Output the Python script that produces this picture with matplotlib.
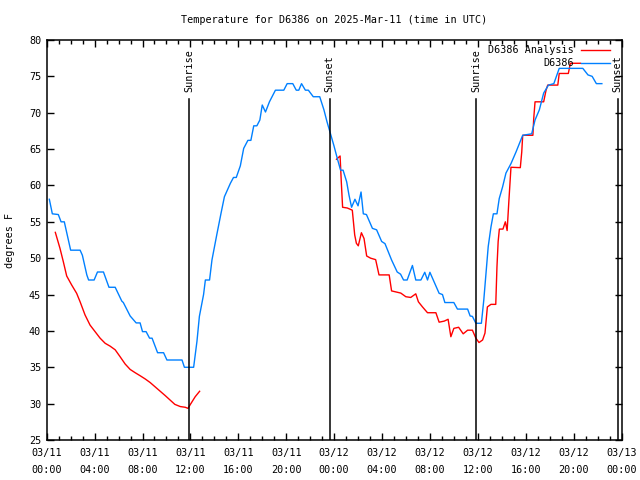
import numpy as np
import matplotlib
matplotlib.use('Agg')
import matplotlib.pyplot as plt
import matplotlib.dates as mdates
from datetime import datetime, timedelta

# hours since 2025-03-11 00:00 UTC
obs_hours = [0.22, 0.47, 0.97, 1.20, 1.47, 2.00, 2.79, 2.98, 3.35, 3.50, 3.96, 4.24, 4.74,
             5.20, 5.72, 6.27, 6.40, 6.97, 7.47, 7.80, 8.00, 8.30, 8.59, 8.80, 9.26, 9.76,
             10.04, 11.30, 11.50, 12.27, 12.55, 12.75, 13.10, 13.25, 13.60, 13.80, 14.20,
             14.56, 14.84, 15.34, 15.60, 15.83, 16.17, 16.45, 16.80, 17.05, 17.29, 17.55,
             17.80, 18.00, 18.27, 18.60, 19.10, 19.80, 20.08, 20.55, 20.84, 21.05, 21.28,
             21.60, 21.85, 22.26, 22.80, 23.15, 23.40, 23.65, 23.98, 24.27, 24.54, 24.75,
             25.05, 25.24, 25.46, 25.74, 26.00, 26.25, 26.44, 26.70, 27.20, 27.55, 27.97,
             28.25, 28.80, 29.27, 29.55, 29.80, 30.10, 30.54, 30.82, 31.25, 31.57, 31.80,
             32.00, 32.40, 32.77, 33.05, 33.25, 34.00, 34.30, 35.15, 35.36, 35.55, 35.84,
             36.30, 36.50, 36.68, 36.87, 37.10, 37.30, 37.60, 37.79, 38.07, 38.35, 38.77,
             39.19, 39.75, 40.50, 40.78, 41.14, 41.50, 41.90, 42.35, 42.80, 44.77, 45.20,
             45.55, 45.90, 46.36]
obs_temp = [58.1, 56.1, 56.0, 55.0, 55.0, 51.1, 51.1, 50.4, 47.7, 47.0, 47.0, 48.1, 48.1,
            46.0, 46.0, 44.1, 43.9, 42.05, 41.1, 41.1, 39.9, 39.9, 39.0, 39.0, 37.0, 37.0,
            36.0, 36.0, 35.0, 35.0, 38.6, 42.0, 45.0, 47.0, 47.0, 49.75, 53.2,
            56.2, 58.45, 60.3, 61.1, 61.1, 62.7, 65.1, 66.2, 66.2, 68.2, 68.2,
            69.0, 71.06, 70.1, 71.5, 73.1, 73.1, 74.0, 74.0, 73.1, 73.1, 74.0,
            73.1, 73.1, 72.2, 72.2, 70.4, 68.8, 67.4, 65.5, 63.7, 62.1, 62.1,
            60.5, 58.7, 57.0, 58.1, 57.2, 59.1, 56.1, 56.0, 54.1, 53.9, 52.3,
            52.0, 49.75, 48.1, 47.8, 47.0, 47.0, 49.0, 47.0, 47.0, 48.06, 47.0,
            48.06, 46.55, 45.17, 45.0, 43.9, 43.9, 43.0, 43.0, 42.05, 42.0, 41.05,
            41.05, 44.25, 47.9, 51.6, 54.3, 56.1, 56.1, 58.2, 59.8, 61.7, 63.0,
            64.6, 66.9, 67.1, 69.0, 70.4, 72.7, 73.8, 74.0, 76.1, 76.1, 75.2,
            75.0, 74.0, 74.0]

ana_hours = [0.72, 1.11, 1.39, 1.67, 2.09, 2.50, 2.79, 3.20, 3.62, 4.04, 4.46, 4.88, 5.30,
             5.72, 6.13, 6.55, 6.97, 7.39, 7.80, 8.22, 8.64, 9.06, 9.48, 9.90, 10.30, 10.70,
             11.15, 11.57, 11.80, 12.00, 12.40, 12.77, 18.0,
             24.20, 24.50, 24.60, 24.71, 25.10, 25.52, 25.72, 25.86, 26.02, 26.28, 26.50,
             26.72, 27.05, 27.47, 27.75, 28.60, 28.80, 29.57, 29.99, 30.40, 30.82, 31.04,
             31.38, 31.80, 32.50, 32.77, 33.20, 33.52, 33.75, 34.00, 34.40, 34.78, 35.15,
             35.55, 35.84, 36.10, 36.40, 36.60, 36.80, 37.10, 37.50, 37.60, 37.70, 37.80,
             38.10, 38.30, 38.45, 38.60, 38.77, 39.55, 39.67, 39.75, 40.60, 40.67, 40.78,
             41.50, 41.70, 41.84, 42.68, 42.80, 43.56, 43.73, 44.57]
ana_temp = [53.55, 51.35, 49.5, 47.55, 46.3, 45.17, 44.0, 42.2, 40.8, 39.9, 39.0, 38.3, 37.9,
            37.4, 36.45, 35.45, 34.7, 34.25, 33.84, 33.4, 32.9, 32.3, 31.7, 31.1, 30.5, 29.9,
            29.6, 29.5, 29.35, 29.9, 30.95, 31.7, np.nan,
            63.6, 64.05, 60.5, 57.0, 56.9, 56.6, 53.2, 52.05, 51.7, 53.5, 52.7,
            50.3, 50.0, 49.8, 47.7, 47.7, 45.5, 45.2, 44.7, 44.6, 45.1, 44.0,
            43.3, 42.5, 42.5, 41.2, 41.35, 41.6, 39.2, 40.35, 40.5, 39.6, 40.1,
            40.1, 39.0, 38.4, 38.75, 39.7, 43.3, 43.65, 43.65, 48.8, 52.3, 54.0,
            54.0, 55.0, 53.8, 58.0, 62.5, 62.45, 64.6, 66.9, 66.9, 69.2, 71.5,
            71.5, 73.1, 73.8, 73.8, 75.4, 75.4, 76.8, 76.8]

sun_hours = [11.88, 23.62, 35.87, 47.67]
sun_labels = ['Sunrise', 'Sunset', 'Sunrise', 'Sunset']

base = datetime(2025, 3, 11)
def to_time(hours):
    return [base + timedelta(hours=h) for h in hours]

font = 'DejaVu Sans Mono'
plt.rcParams['font.family'] = font
plt.rcParams['font.size'] = 7.3

fig = plt.figure(figsize=(6.4, 4.8), dpi=100)
ax = fig.add_axes([46.7/640, 40/480, (621.5-46.7)/640, 400/480])

ax.plot(to_time(ana_hours), ana_temp, color='red', lw=1.0)
ax.plot(to_time(obs_hours), obs_temp, color='#0080ff', lw=1.0)

for h, lab in zip(sun_hours, sun_labels):
    t = base + timedelta(hours=h)
    ax.plot([t, t], [25, 71.9], color='black', lw=1.1)
    ax.text(t, 72.8, lab, rotation=90, ha='center', va='bottom')

ax.set_xlim(base, base + timedelta(hours=48))
ax.set_ylim(25, 80)
ax.set_yticks(np.arange(25, 81, 5))
ax.xaxis.set_major_locator(mdates.HourLocator(byhour=[0, 4, 8, 12, 16, 20]))
ax.xaxis.set_minor_locator(mdates.HourLocator())
ax.xaxis.set_major_formatter(mdates.DateFormatter('%m/%d\n%H:%M'))
ax.tick_params(which='both', direction='in', top=True, right=True, width=1)
ax.tick_params(which='major', length=5)
ax.tick_params(which='minor', length=3)
ax.tick_params(axis='x', pad=6)
ax.tick_params(axis='y', pad=4)
for lab in ax.get_xticklabels():
    lab.set_linespacing(1.8)
for s in ax.spines.values():
    s.set_linewidth(1.1)

# key, gnuplot style
ax.text(0.917, 0.975, 'D6386 Analysis', transform=ax.transAxes, ha='right', va='center')
ax.plot([0.929, 0.980], [0.975, 0.975], transform=ax.transAxes, color='red', lw=1.0)
ax.text(0.917, 0.943, 'D6386', transform=ax.transAxes, ha='right', va='center')
ax.plot([0.929, 0.980], [0.943, 0.943], transform=ax.transAxes, color='#0080ff', lw=1.0)

fig.text(334/640, 1 - 20/480, 'Temperature for D6386 on 2025-Mar-11 (time in UTC)',
         ha='center', va='center')
fig.text(10/640, 0.5, 'degrees F', rotation=90, ha='center', va='center')

fig.savefig('out.png', dpi=100)
